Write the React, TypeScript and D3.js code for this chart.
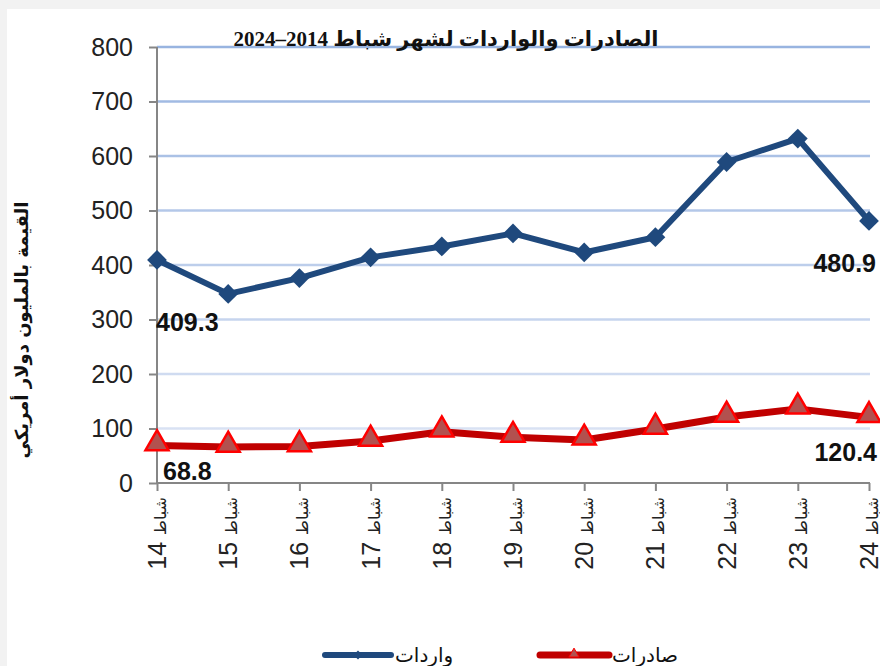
import React, { useRef, useEffect } from "react";
import * as d3 from "d3";

const months = [14, 15, 16, 17, 18, 19, 20, 21, 22, 23, 24];
const imports = [409.3, 347, 376, 414, 434, 458, 423, 451, 589, 632, 480.9];
const exports = [68.8, 66, 67, 77, 94, 84, 79, 99, 121, 136, 120.4];
const yTicks = [0, 100, 200, 300, 400, 500, 600, 700, 800];

const W = 880;
const H = 666;

const App = () => {
  const ref = useRef<SVGSVGElement>(null);

  useEffect(() => {
    const svg = d3.select(ref.current);
    svg.selectAll("*").remove();

    const x = d3.scalePoint<number>().domain(months).range([157, 869]).padding(0);
    const y = d3.scaleLinear().domain([0, 800]).range([483, 47]);

    // background
    svg.append("rect").attr("width", W).attr("height", H).attr("fill", "#f2f2f2");
    svg.append("rect").attr("x", 7).attr("y", 9).attr("width", W).attr("height", H).attr("fill", "white");

    const defs = svg.append("defs");
    const grad = defs.append("linearGradient")
      .attr("id", "gridGrad")
      .attr("gradientUnits", "userSpaceOnUse")
      .attr("x1", 0).attr("x2", 0).attr("y1", y(800)).attr("y2", y(0));
    grad.append("stop").attr("offset", 0).attr("stop-color", "#98b4e0");
    grad.append("stop").attr("offset", 1).attr("stop-color", "#e2e8f6");

    // grid
    svg.append("g").selectAll("line")
      .data(yTicks.filter(d => d > 0))
      .join("line")
      .attr("x1", 157).attr("x2", 870)
      .attr("y1", d => y(d)).attr("y2", d => y(d))
      .attr("stroke", "url(#gridGrad)")
      .attr("stroke-width", 2.5);

    // axes
    const axisColor = "#868686";
    const yAxis = svg.append("g").attr("transform", "translate(157,0)")
      .call(d3.axisLeft(y).tickValues(yTicks).tickSize(8).tickPadding(16));
    yAxis.select(".domain").attr("stroke", axisColor).attr("stroke-width", 2)
      .attr("d", `M0,${y(800)}V${y(0)}`);
    yAxis.selectAll(".tick line").attr("stroke", axisColor).attr("stroke-width", 2);
    yAxis.selectAll(".tick text")
      .attr("font-family", "Arial, 'Liberation Sans', sans-serif")
      .attr("font-size", 25).attr("fill", "#222");

    const xAxis = svg.append("g").attr("transform", `translate(0,${y(0)})`)
      .call(d3.axisBottom(x).tickSize(8).tickFormat(() => ""));
    xAxis.select(".domain").attr("stroke", axisColor).attr("stroke-width", 2)
      .attr("d", `M157,0H870`);
    xAxis.selectAll(".tick line").attr("stroke", axisColor).attr("stroke-width", 2);

    // x labels, rotated
    const xl = svg.append("g").selectAll("text")
      .data(months)
      .join("text")
      .attr("transform", d => `translate(${(x(d) as number) + 9},497) rotate(-90)`)
      .attr("text-anchor", "end")
      .attr("font-family", "Arial, 'Liberation Sans', sans-serif")
      .attr("fill", "#222");
    xl.append("tspan").attr("font-size", 25).text(d => `${d} `);
    xl.append("tspan").attr("font-size", 16).attr("font-family", "'DejaVu Sans', sans-serif").text("شباط");

    // lines
    const line = d3.line<number>().x((_, i) => x(months[i]) as number).y(d => y(d));

    svg.append("path").datum(exports)
      .attr("d", line).attr("fill", "none")
      .attr("stroke", "#c00000").attr("stroke-width", 7).attr("stroke-linejoin", "round");

    svg.append("path").datum(imports)
      .attr("d", line).attr("fill", "none")
      .attr("stroke", "#1f497d").attr("stroke-width", 6).attr("stroke-linejoin", "round");

    const diamond = d3.symbol().type(d3.symbolDiamond2).size(250);
    const tri = d3.symbol().type(d3.symbolTriangle).size(230);

    svg.append("g").selectAll("path")
      .data(imports)
      .join("path")
      .attr("transform", (d, i) => `translate(${x(months[i])},${y(d)})`)
      .attr("d", diamond)
      .attr("fill", "#1f497d");

    svg.append("g").selectAll("path")
      .data(exports)
      .join("path")
      .attr("transform", (d, i) => `translate(${x(months[i])},${y(d) - 2})`)
      .attr("d", tri)
      .attr("fill", "#b2514f")
      .attr("stroke", "#ff0000")
      .attr("stroke-width", 2.5);

    // data labels
    const labelFont = "Arial, 'Liberation Sans', sans-serif";
    const last = months.length - 1;
    const labels = [
      { v: imports[0], i: 0, dy: 71, anchor: "start", dx: -1 },
      { v: imports[last], i: last, dy: 51, anchor: "end", dx: 7 },
      { v: exports[0], i: 0, dy: 34, anchor: "start", dx: 6 },
      { v: exports[last], i: last, dy: 44, anchor: "end", dx: 8 },
    ];
    svg.append("g").selectAll("text")
      .data(labels)
      .join("text")
      .attr("x", d => (x(months[d.i]) as number) + d.dx)
      .attr("y", d => y(d.v) + d.dy)
      .attr("text-anchor", d => d.anchor)
      .attr("font-family", labelFont)
      .attr("font-weight", "bold")
      .attr("font-size", 25)
      .attr("fill", "#111")
      .text(d => d.v.toFixed(1));

    // title
    svg.append("text")
      .attr("x", 446).attr("y", 46)
      .attr("text-anchor", "middle")
      .attr("direction", "rtl")
      .attr("font-family", "'Times New Roman', 'Liberation Serif', 'DejaVu Sans', serif")
      .attr("font-weight", "bold")
      .attr("font-size", 21)
      .attr("fill", "#111")
      .text("الصادرات والواردات لشهر شباط 2014–2024");

    // y title
    svg.append("text")
      .attr("transform", "translate(28,330) rotate(-90)")
      .attr("text-anchor", "middle")
      .attr("direction", "rtl")
      .attr("font-family", "'DejaVu Sans', sans-serif")
      .attr("font-weight", "bold")
      .attr("font-size", 18)
      .attr("fill", "#111")
      .text("القيمة بالمليون دولار أمريكي");

    // legend
    const lg = svg.append("g");
    lg.append("line").attr("x1", 325).attr("x2", 391).attr("y1", 655).attr("y2", 655)
      .attr("stroke", "#1f497d").attr("stroke-width", 6).attr("stroke-linecap", "round");
    lg.append("path").attr("transform", "translate(358,655)")
      .attr("d", d3.symbol().type(d3.symbolDiamond2).size(50)).attr("fill", "#1f497d");
    lg.append("text").attr("x", 395).attr("y", 662)
      .attr("font-family", "'DejaVu Sans', sans-serif").attr("font-size", 20).attr("fill", "#111")
      .text("واردات");

    lg.append("line").attr("x1", 540).attr("x2", 609).attr("y1", 655).attr("y2", 655)
      .attr("stroke", "#c00000").attr("stroke-width", 7).attr("stroke-linecap", "round");
    lg.append("path").attr("transform", "translate(574,654)")
      .attr("d", d3.symbol().type(d3.symbolTriangle).size(45))
      .attr("fill", "#b2514f").attr("stroke", "#ff0000").attr("stroke-width", 1);
    lg.append("text").attr("x", 612).attr("y", 662)
      .attr("font-family", "'DejaVu Sans', sans-serif").attr("font-size", 20).attr("fill", "#111")
      .text("صادرات");
  }, []);

  return (
    <div style={{ position: "absolute", left: 0, top: 0 }}>
      <svg ref={ref} width={W} height={H} style={{ display: "block" }} />
    </div>
  );
};

export default App;
